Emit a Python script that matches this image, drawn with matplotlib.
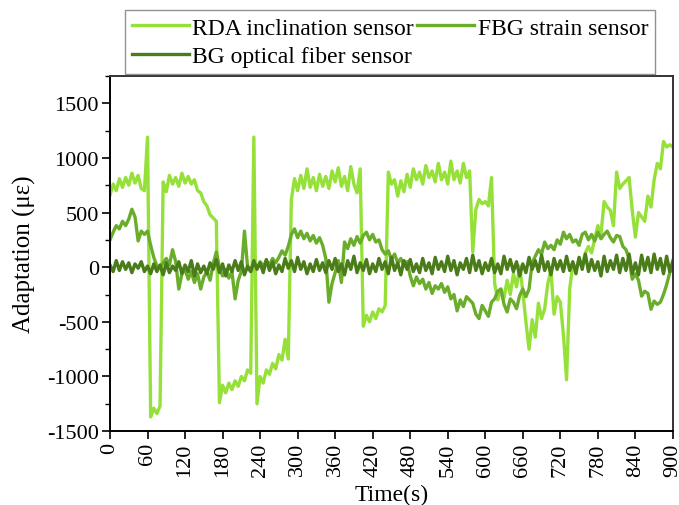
import numpy as np
import matplotlib
matplotlib.use("Agg")
import matplotlib.pyplot as plt
from matplotlib.ticker import MultipleLocator
from matplotlib import font_manager as fm

# time axis (s), one sample every 5 s
time_s = list(range(0, 901, 5))

rda = [
    660, 760, 700, 810, 730, 820, 750, 860, 770, 840, 720, 700,
    1190, -1370, -1290, -1340, -1270, 780, 690, 840, 760, 820, 740, 860,
    770, 830, 760, 800, 700, 680, 600, 560, 480, 450, 420, -1240,
    -1080, -1150, -1060, -1120, -1040, -1090, -1000, -1040, -940, -970, 1190, -1250,
    -1000, -1060, -940, -980, -880, -930, -800, -850, -660, -840, 620, 810,
    700, 840, 720, 900, 730, 820, 700, 850, 740, 830, 720, 880,
    780, 910, 740, 830, 700, 920, 760, 680, 900, -540, -440, -500,
    -410, -470, -380, -410, -350, 870, 760, 800, 650, 790, 690, 850,
    730, 900, 800, 870, 760, 930, 820, 880, 780, 950, 800, 870,
    760, 970, 800, 880, 770, 950, 820, 880, 140, 530, 620, 580,
    600, 560, 820, -150, -300, -200, -280, -120, -250, -60, -180, 10,
    -220, -500, -750, -480, -640, -330, -470, -380, -150, -30, -430, -270,
    -320, -620, -1030, -200, 30, -10, 70, 20, 130, 190, 130, 260,
    380, 300, 600, 550, 520, 380, 870, 720, 760, 790, 820, 520,
    275, 500, 460, 420, 650, 550, 800, 950, 900, 1150, 1100, 1120,
    1100,
]

fbg = [
    250, 320, 380, 350, 420, 380, 440, 530, 460, 240, 330, 300,
    330, 200, 90, 10, 0, 40, 80, 20, 160, 50, -200, -60,
    -20, -110, -40, -140, -60, -200, -90, -40, -120, 30, 140, 0,
    -80, -20, -100, -40, -290, -120, -40, 330, 0, -40, 40, -10,
    50, 10, 60, 20, 80, 40, 90, 150, 110, 190, 300, 350,
    270, 330, 260, 310, 240, 290, 220, 270, 200, 80, -320, -150,
    -50, 60, -140, 230, 170, 260, 200, 280, 220, 290, 320, 250,
    300, 230, 250, 160, 120, 150, 70, 120, 40, 80, 10, 50,
    -80, -170, -90, -150, -110, -200, -140, -240, -170, -200, -150, -230,
    -180, -290, -250, -400, -300, -360, -270, -300, -330, -430, -470, -350,
    -400, -450, -320, -290, -220, -200, -340, -410, -290, -320, -380, -260,
    -200, -270, -200, 40, 100, 160, 120, 230, 170, 200, 160, 250,
    210, 320, 260, 300, 230, 250, 200, 300, 320, 250, 300, 240,
    320, 260, 300, 330, 270, 230, 290, 280, 190, 160, 75, -110,
    -60, -120, -265, -220, -240, -385, -310, -340, -320, -250, -160, -50,
    0,
]

bg = [
    20, -40, 60, -30, 50, -20, 40, -50, 30, -10, 50, -40,
    10, -60, 30, -40, 20, -70, 40, -50, 10, -30, 50, -60,
    20, -40, 60, -80, 30, -50, 10, -60, 40, -20, 70, -50,
    30, -80, 20, -40, 60, -30, 50, -70, 10, -40, 60, -20,
    40, -50, 70, -30, 50, -60, 20, -40, 80, -10, 60, -40,
    90, -20, 50, -60, 30, -40, 70, -30, 40, -50, 60, -20,
    80, -40, 30, -70, 60, -20, 100, -50, 40, -30, 70, -60,
    30, -40, 80, -20, 50, -60, 90, -30, 40, -70, 60, -20,
    70, -40, 30, -50, 80, -30, 40, -60, 90, -20, 50, -40,
    100, -30, 60, -70, 40, -20, 80, -50, 110, -30, 60, -60,
    40, -30, 80, -50, 30, -60, 100, -20, 70, -40, 50, -80,
    30, -50, 90, -20, 60, -40, 110, -30, 50, -70, 80, -20,
    60, -40, 100, -30, 50, -60, 90, -20, 120, -40, 70, -30,
    50, -80, 100, -40, 60, -20, 110, -50, 80, -30, 120, -60,
    40, -70, 110, -30, 90, -50, 120, -20, 80, -60, 100, -40,
    60,
]

labels = ["RDA inclination sensor", "FBG strain sensor", "BG optical fiber sensor"]
colors = ["#96e03a", "#6aad2b", "#4a7c19"]
x_ticks = list(range(0, 901, 60))
y_ticks = [-1500, -1000, -500, 0, 500, 1000, 1500]

# locate a Times-like serif font
serif_name = None
for f in fm.fontManager.ttflist:
    if f.name.lower().startswith('liberation serif'):
        serif_name = f.name
        break
if serif_name is None:
    serif_name = 'DejaVu Serif'
fam = [serif_name, 'DejaVu Serif']

plt.rcParams['font.family'] = fam
plt.rcParams['axes.unicode_minus'] = False

TICK_FS = 16
fig = plt.figure(figsize=(6.79, 5.06), dpi=100)
ax = fig.add_axes([0.162, 0.146, 0.829, 0.702])

lines = []
for series, lab, col in zip([rda, fbg, bg], labels, colors):
    ln, = ax.plot(time_s, series, color=col, lw=2.4, label=lab)
    lines.append(ln)

ax.set_xlim(0, 900)
ax.set_ylim(-1500, 1750)
ax.set_xticks(x_ticks)
ax.set_xticklabels([str(v) for v in x_ticks], rotation=90, family=fam)
ax.set_yticks(y_ticks)
ax.set_yticklabels([str(v) for v in y_ticks], family=fam)
ax.yaxis.set_minor_locator(MultipleLocator(250))
ax.tick_params(axis='both', which='major', labelsize=TICK_FS, direction='out', length=6, width=1.2, pad=2)
ax.tick_params(axis='y', which='minor', direction='out', length=3.5, width=1.0)
ax.set_xlabel("Time(s)", fontsize=17, family=fam, va='center')
ax.xaxis.set_label_coords(0.5, -0.177)
ax.set_ylabel("Adaptation (με)", fontsize=18, family=fam, va='center')
ax.yaxis.set_label_coords(-0.152, 0.5)

for side in ['left', 'bottom']:
    ax.spines[side].set_linewidth(1.4)
    ax.spines[side].set_color('black')
for side in ['right', 'top']:
    ax.spines[side].set_linewidth(1.4)
    ax.spines[side].set_color('#333333')

handles = [lines[0], lines[2], lines[1]]
leg_labels = [labels[0], labels[2], labels[1]]
leg = fig.legend(handles, leg_labels, ncol=2, loc='upper left',
                 bbox_to_anchor=(0.184, 0.978),
                 prop=fm.FontProperties(family=fam, size=17),
                 frameon=True, fancybox=False, edgecolor='#777777',
                 handlelength=2.4, handletextpad=0.15, columnspacing=0.15,
                 labelspacing=0.3, borderpad=0.3, borderaxespad=0.0)
leg.get_frame().set_linewidth(1.0)

fig.savefig("out.png", dpi=100)
